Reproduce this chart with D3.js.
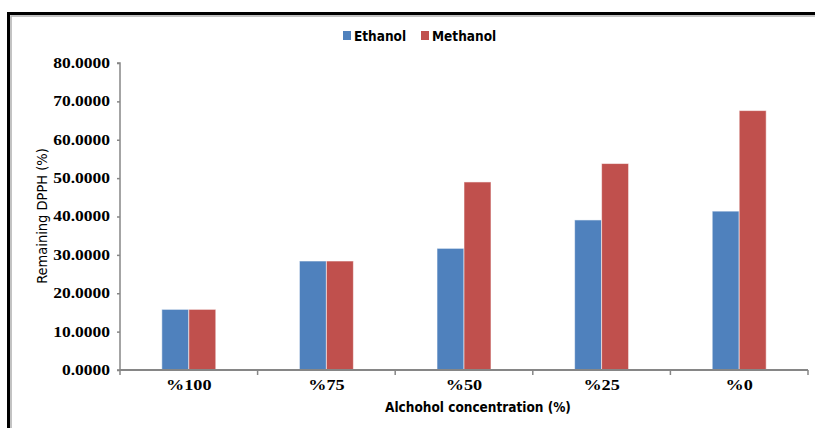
<!DOCTYPE html>
<html><head><meta charset="utf-8">
<script src="https://cdn.jsdelivr.net/npm/d3@7"></script>
<style>html,body{margin:0;padding:0;background:#fff;}svg{display:block;}</style>
</head><body>
<svg id="chart" width="815" height="428"></svg>
<script>
const categories = ["%100", "%75", "%50", "%25", "%0"];
const seriesNames = ["Ethanol", "Methanol"];
const ethanol = [15.8, 28.4, 31.7, 39.1, 41.4];
const methanol = [15.8, 28.4, 49.0, 53.8, 67.6];
const yTicks = [0, 10, 20, 30, 40, 50, 60, 70, 80];
const colors = ["#4F81BD", "#C0504D"];

(function () {
const svg = d3.select("#chart");
const W = 815, H = 428;
svg.append("rect").attr("width", W).attr("height", H).attr("fill", "#fff");
// frame
svg.append("rect").attr("x", 8.5).attr("y", 13.5).attr("width", 840).attr("height", 440)
  .attr("fill", "none").attr("stroke", "#000").attr("stroke-width", 3);
svg.append("path").attr("d", "M11,430 V16 H820").attr("fill", "none").attr("stroke", "#b0b0b0").attr("stroke-width", 1.5);

const mLeft = 120, mRight = 808, mTop = 63, mBottom = 370;
const x = d3.scaleBand().domain(categories).range([mLeft, mRight]).paddingInner(0).paddingOuter(0);
const x1 = d3.scaleBand().domain(seriesNames).range([0, x.bandwidth()]).paddingInner(0).paddingOuter(1.55);
const y = d3.scaleLinear().domain([0, 80]).range([mBottom, mTop]);

const data = categories.map((c, i) => ({cat: c, vals: [ethanol[i], methanol[i]]}));

const g = svg.append("g");
g.selectAll("g.grp").data(data).join("g").attr("class", "grp")
  .attr("transform", d => `translate(${x(d.cat)},0)`)
  .selectAll("rect").data(d => d.vals.map((v, k) => ({k, v})))
  .join("rect")
  .attr("x", d => x1(seriesNames[d.k]))
  .attr("width", x1.bandwidth())
  .attr("y", d => y(d.v))
  .attr("height", d => y(0) - y(d.v))
  .attr("fill", d => colors[d.k])
  .attr("stroke", "rgba(255,255,255,0.55)")
  .attr("stroke-width", 1);

const serif = "'Liberation Serif', 'Times New Roman', serif";
function stretch(sel, f) {
  sel.each(function () {
    const len = this.getComputedTextLength();
    d3.select(this).attr("textLength", len * f).attr("lengthAdjust", "spacingAndGlyphs");
  });
}

// Y axis
const yAxis = d3.axisLeft(y).tickValues(yTicks).tickSize(3).tickPadding(7)
  .tickFormat(d => d3.format(".4f")(d));
const ya = svg.append("g").attr("transform", `translate(${mLeft},0)`).call(yAxis);
ya.select(".domain").attr("stroke", "#868686").attr("stroke-width", 1.5).attr("d", `M-3,${mTop}H0V${mBottom}H-3`);
ya.selectAll(".tick line").attr("stroke", "#868686").attr("stroke-width", 1.5);
ya.selectAll(".tick text").attr("font-family", serif)
  .attr("font-weight", "bold").attr("font-size", 14).attr("fill", "#000");
stretch(ya.selectAll(".tick text"), 1.25);

// X axis
const xa = svg.append("g").attr("transform", `translate(0,${mBottom})`);
xa.append("line").attr("x1", mLeft).attr("x2", mRight).attr("y1", 0).attr("y2", 0)
  .attr("stroke", "#868686").attr("stroke-width", 2);
const boundaries = categories.map(c => x(c)).concat([mRight]);
xa.selectAll("line.tk").data(boundaries).join("line").attr("class", "tk")
  .attr("x1", d => d).attr("x2", d => d).attr("y1", 0).attr("y2", 5)
  .attr("stroke", "#868686").attr("stroke-width", 1.5);
const xl = xa.selectAll("text").data(categories).join("text")
  .attr("x", d => x(d) + x.bandwidth() / 2).attr("y", 20)
  .attr("text-anchor", "middle")
  .attr("font-family", serif)
  .attr("font-weight", "bold").attr("font-size", 14).text(d => d);
stretch(xl, 1.3);

// Axis titles
const sansC = "'DejaVu Sans Condensed', 'DejaVu Sans', sans-serif";
svg.append("text").attr("x", 478).attr("y", 412).attr("text-anchor", "middle")
  .attr("font-family", sansC).attr("font-size", 13.5).attr("font-weight", "bold")
  .text("Alchohol concentration (%)");
svg.append("text").attr("transform", `translate(47,${216}) rotate(-90)`)
  .attr("text-anchor", "middle").attr("font-family", sansC).attr("font-size", 14.5)
  .attr("fill", "#000")
  .text("Remaining DPPH (%)");

// Legend
const legend = svg.append("g").attr("transform", "translate(343,31)");
const lx = [0, 78];
seriesNames.forEach((s, i) => {
  legend.append("rect").attr("x", lx[i]).attr("y", 0).attr("width", 8).attr("height", 9).attr("fill", colors[i]);
  legend.append("text").attr("x", lx[i] + 11).attr("y", 9.5)
    .attr("font-family", sansC).attr("font-weight", "bold").attr("font-size", 13.5).text(s);
});
})();
</script>
</body></html>
